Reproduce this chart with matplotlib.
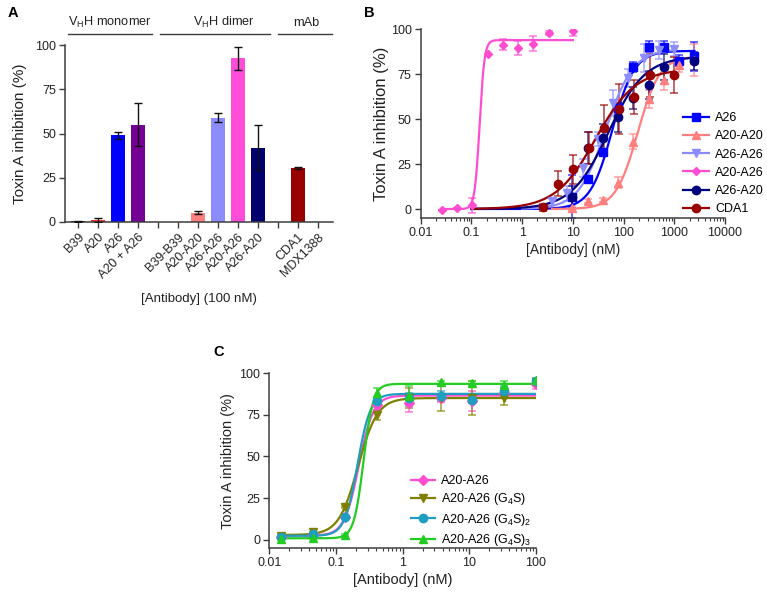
import numpy as np
import matplotlib
matplotlib.use("Agg")
import matplotlib.pyplot as plt
from matplotlib.ticker import LogLocator, NullFormatter, FuncFormatter
from matplotlib.lines import Line2D

plt.rcParams['font.family'] = ['Liberation Sans', 'DejaVu Sans']
plt.rcParams['mathtext.fontset'] = 'custom'
plt.rcParams['mathtext.rm'] = 'Liberation Sans'
plt.rcParams['mathtext.it'] = 'Liberation Sans:italic'
plt.rcParams['mathtext.bf'] = 'Liberation Sans:bold'

# ---------------- Panel A data ----------------
a_labels = ["B39", "A20", "A26", "A20 + A26", "", "B39-B39", "A20-A20", "A26-A26",
            "A20-A26", "A26-A20", "", "CDA1", "MDX1388"]
a_values = [0.3, 1.2, 49.0, 55.0, None, 0.0, 5.3, 59.0, 92.5, 42.0, None, 30.5, 0.0]
a_errors = [0.3, 1.0, 2.0, 12.3, None, 0.0, 1.0, 2.5, 6.5, 12.8, None, 0.8, 0.0]
a_colors = ["#000000", "#FF2A2A", "#0000FF", "#750094", None, "#FF7F7F", "#FF7F7F",
            "#8C8CFF", "#FF4DD9", "#00006E", None, "#990000", "#990000"]
a_groups = ["V$_\\mathrm{H}$H monomer", "V$_\\mathrm{H}$H dimer", "mAb"]

# ---------------- Panel B data ----------------
b_names = ["A26", "A20-A20", "A26-A26", "A20-A26", "A26-A20", "CDA1"]
b_colors = ["#0000FF", "#FF7F7F", "#8C8CFF", "#FF4DD2", "#00007F", "#990000"]
b_markers = ["s", "^", "v", "D", "o", "o"]
b_x = [
    [9.77, 19.5, 39.1, 78.1, 156, 312, 625, 1250, 2500],
    [9.77, 19.5, 39.1, 78.1, 156, 312, 625, 1250, 2500],
    [3.91, 7.81, 15.6, 31.25, 62.5, 125, 250, 500, 1000],
    [0.026, 0.052, 0.104, 0.208, 0.417, 0.833, 1.67, 3.33, 10.0],
    [9.77, 19.5, 39.1, 78.1, 156, 312, 625, 2500],
    [2.56, 5.12, 10.2, 20.5, 41.0, 82.0, 164, 328, 1000],
]
b_y = [
    [6.9, 16.5, 31.5, 56.0, 79.0, 90.4, 90.4, 82.6, 85.0],
    [0.5, 4.5, 5.0, 14.7, 37.5, 61.0, 72.0, 80.0, 83.0],
    [4.3, 8.7, 22.6, 39.0, 59.0, 72.7, 84.0, 88.5, 89.0],
    [-0.5, 0.4, 2.0, 86.0, 91.5, 89.5, 92.0, 98.0, 99.0],
    [6.7, 33.8, 39.5, 51.0, 61.8, 69.0, 79.0, 82.5],
    [1.0, 14.0, 22.0, 33.8, 45.0, 55.5, 62.5, 74.5, 74.6],
]
b_err = [
    [12, 2, 2, 3, 3, 3, 3, 3, 8],
    [1, 1, 1, 3, 4, 5, 6, 4, 9],
    [2, 4, 5, 4, 7, 5, 8, 5, 4],
    [0, 0, 4, 0.5, 3, 4, 4, 1, 2.5],
    [6, 9, 8, 8, 6, 8, 7, 5],
    [2, 7, 8, 9, 13, 14, 9.5, 12, 10],
]
# 4-parameter logistic fit parameters: bottom, top, EC50, hill; and curve x-range
b_fit_bottom = [0, 0, 0, 0, 0, 0]
b_fit_top = [88, 85, 89, 94, 85, 78]
b_fit_ec50 = [60, 190, 45, 0.145, 50, 28]
b_fit_hill = [2.0, 2.0, 1.6, 9.0, 1.2, 1.1]
b_fit_xmin = [0.1, 3.9, 1.0, 0.026, 0.1, 0.1]
b_fit_xmax = [2500, 2500, 1000, 10.0, 2500, 1000]

# ---------------- Panel C data ----------------
c_names = ["A20-A26", "A20-A26 (G$_4$S)", "A20-A26 (G$_4$S)$_2$", "A20-A26 (G$_4$S)$_3$"]
c_colors = ["#FF4DD2", "#808000", "#1E9EC0", "#22CC22"]
c_markers = ["D", "v", "o", "^"]
c_x = [0.0152, 0.0457, 0.137, 0.412, 1.23, 3.70, 11.1, 33.3, 100]
c_y = [
    [2.0, 3.4, 13.6, 80.6, 82.2, 84.8, 83.4, 87.8, 93.4],
    [2.5, 4.5, 19.8, 74.9, 85.0, 85.0, 85.0, 85.0, 94.5],
    [2.0, 3.8, 13.5, 83.5, 85.0, 86.5, 84.0, 89.0, 95.0],
    [0.5, 1.0, 3.0, 88.0, 86.0, 94.5, 94.0, 93.0, 96.0],
]
c_err = [
    [0.5, 0.5, 0.5, 3, 5.5, 2, 6, 3, 3],
    [0.5, 0.5, 0.5, 3, 6, 8, 10, 4, 2],
    [0.5, 0.5, 0.5, 2, 3, 3, 2, 3, 1.5],
    [0.5, 0.5, 0.5, 3, 6, 1, 1, 2.5, 1],
]
c_fit_bottom = [2.5, 3.0, 2.5, 1.0]
c_fit_top = [86.5, 85.0, 87.5, 93.5]
c_fit_ec50 = [0.22, 0.214, 0.21, 0.259]
c_fit_hill = [4.0, 3.0, 4.5, 6.0]

yticks = [0, 25, 50, 75, 100]


def logistic(x, bottom, top, ec50, hill):
    return bottom + (top - bottom) / (1.0 + (ec50 / x) ** hill)


SPINE = "#3c3c3c"
TXT = "#222222"
W, H = 767, 593
fig = plt.figure(figsize=(W / 100, H / 100), dpi=100)


def rect(x0, x1, ytop, ybot):
    return [x0 / W, 1 - ybot / H, (x1 - x0) / W, (ybot - ytop) / H]


def style(ax, fs=9.0):
    for s in ["top", "right"]:
        ax.spines[s].set_visible(False)
    for s in ["left", "bottom"]:
        ax.spines[s].set_color(SPINE)
        ax.spines[s].set_linewidth(1.1)
    ax.tick_params(which="major", direction="out", length=4.5, width=1.0,
                   color=SPINE, labelsize=fs, labelcolor=TXT, pad=2)
    ax.tick_params(which="minor", direction="out", length=2.5, width=0.8, color=SPINE)


def log_axis(ax):
    ax.set_xscale("log")
    ax.xaxis.set_major_locator(LogLocator(base=10, numticks=10))
    ax.xaxis.set_minor_locator(LogLocator(base=10, subs=np.arange(2, 10), numticks=20))
    ax.xaxis.set_minor_formatter(NullFormatter())
    ax.xaxis.set_major_formatter(FuncFormatter(lambda v, p: "%g" % v))


# ================= Panel A =================
axA = fig.add_axes(rect(65, 333, 45, 222))
style(axA, 9)
pos = np.arange(len(a_labels))
for i, (v, e, c) in enumerate(zip(a_values, a_errors, a_colors)):
    if v is None:
        continue
    axA.bar(pos[i], v, width=0.68, color=c, zorder=2)
    if e > 0:
        axA.errorbar(pos[i], v, yerr=e, fmt="none", ecolor="#111111",
                     elinewidth=1.0, capsize=3.2, capthick=1.0, zorder=3)
axA.set_xlim(-0.65, 12.75)
axA.set_ylim(0, 100)
axA.set_yticks(yticks)
axA.set_xticks(pos)
axA.set_xticklabels(a_labels, rotation=45, ha="right", rotation_mode="anchor", fontsize=9)
axA.set_ylabel("Toxin A inhibition (%)", fontsize=11, labelpad=6, color=TXT)
axA.set_xlabel("[Antibody] (100 nM)", fontsize=9.5, labelpad=9, color=TXT)

trA = axA.get_xaxis_transform()
group_lines = [(-0.5, 3.7), (4.1, 9.6), (10.0, 12.7)]
group_text_x = [1.6, 7.3, 11.4]
for (x0, x1), tx, g in zip(group_lines, group_text_x, a_groups):
    axA.plot([x0, x1], [1.062, 1.062], transform=trA, color=SPINE, lw=1.0, clip_on=False)
    axA.text(tx, 1.125, g, transform=trA, ha="center", va="center", fontsize=9.2, color=TXT)

# ================= Panel B =================
axB = fig.add_axes(rect(420.7, 725, 29.3, 218))
style(axB, 9)
handlesB = []
for i in range(len(b_names)):
    col = b_colors[i]
    xf = np.logspace(np.log10(b_fit_xmin[i]), np.log10(b_fit_xmax[i]), 300)
    axB.plot(xf, logistic(xf, b_fit_bottom[i], b_fit_top[i], b_fit_ec50[i], b_fit_hill[i]),
             color=col, lw=1.6, zorder=3)
    axB.errorbar(b_x[i], b_y[i], yerr=b_err[i], fmt="none", ecolor=col, alpha=0.75,
                 elinewidth=1.1, capsize=3, capthick=1.1, zorder=2)
    ms = 6 if b_markers[i] != "D" else 4.5
    axB.plot(b_x[i], b_y[i], ls="none", marker=b_markers[i], ms=ms, color=col,
             mec=col, zorder=4)
    handlesB.append(Line2D([], [], color=col, lw=1.6, marker=b_markers[i], ms=ms))
log_axis(axB)
axB.set_xlim(0.01, 10000)
axB.set_ylim(-5, 100)
axB.set_yticks(yticks)
axB.set_ylabel("Toxin A inhibition (%)", fontsize=12, labelpad=1, color=TXT)
axB.set_xlabel("[Antibody] (nM)", fontsize=10, labelpad=3, color=TXT)
fig.legend(handlesB, b_names, loc="upper left", bbox_to_anchor=(683 / W, 1 - 112 / H),
           frameon=False, fontsize=9, handlelength=2.1, handletextpad=0.45,
           labelspacing=0.5, borderpad=0, borderaxespad=0)

# ================= Panel C =================
axC = fig.add_axes(rect(269.3, 536, 373, 548.3))
style(axC, 9)
handlesC = []
for i in range(len(c_names)):
    col = c_colors[i]
    xf = np.logspace(np.log10(c_x[0]), np.log10(c_x[-1]), 400)
    axC.plot(xf, logistic(xf, c_fit_bottom[i], c_fit_top[i], c_fit_ec50[i], c_fit_hill[i]),
             color=col, lw=1.6, zorder=3)
    axC.errorbar(c_x, c_y[i], yerr=c_err[i], fmt="none", ecolor=col, alpha=0.75,
                 elinewidth=1.1, capsize=3, capthick=1.1, zorder=2)
    ms = 6 if c_markers[i] != "D" else 5
    axC.plot(c_x, c_y[i], ls="none", marker=c_markers[i], ms=ms, color=col, mec=col, zorder=4)
    handlesC.append(Line2D([], [], color=col, lw=1.6, marker=c_markers[i], ms=ms))
log_axis(axC)
axC.set_xlim(0.01, 100)
axC.set_ylim(-5, 100)
axC.set_yticks(yticks)
axC.set_ylabel("Toxin A inhibition (%)", fontsize=10.5, labelpad=3, color=TXT)
axC.set_xlabel("[Antibody] (nM)", fontsize=10.5, labelpad=3, color=TXT)
fig.legend(handlesC, c_names, loc="upper left", bbox_to_anchor=(411 / W, 1 - 475 / H),
           frameon=False, fontsize=9, handlelength=1.9, handletextpad=0.5,
           labelspacing=0.35, borderpad=0, borderaxespad=0)

# panel letters
fig.text(8 / W, 1 - 13 / H, "A", fontsize=10.5, fontweight="bold", va="center", ha="left")
fig.text(364 / W, 1 - 13 / H, "B", fontsize=10.5, fontweight="bold", va="center", ha="left")
fig.text(213 / W, 1 - 352 / H, "C", fontsize=10.5, fontweight="bold", va="center", ha="left")

fig.savefig("out.png", dpi=100)
